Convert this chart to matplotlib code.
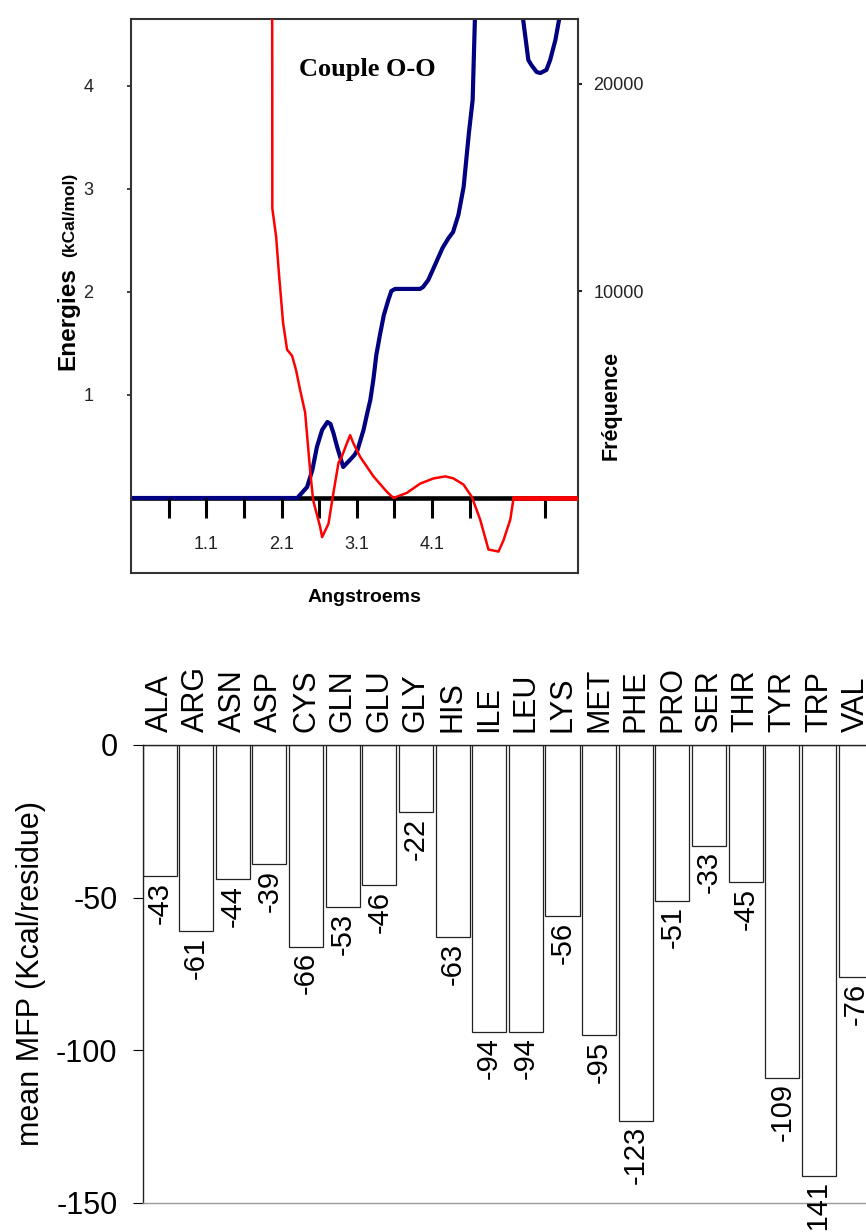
import matplotlib
matplotlib.use("Agg")
import matplotlib.pyplot as plt

plt.rcParams['font.family'] = ['Liberation Sans', 'DejaVu Sans']
plt.rcParams['axes.unicode_minus'] = False

# --- O-O pair potential (kcal/mol) vs distance (Angstrom)
red_a = [1.975, 1.978, 2.028, 2.068, 2.121, 2.174, 2.241, 2.294, 2.347, 2.414,
         2.48, 2.52, 2.613, 2.64, 2.724, 2.79, 2.857, 2.90, 2.968, 3.012,
         3.056, 3.145, 3.322, 3.50, 3.588, 3.766, 3.943, 4.12, 4.276, 4.386,
         4.519, 4.63, 4.74, 4.85, 4.984, 5.05, 5.14, 5.184, 6.04]
red_e = [6.0, 2.81, 2.54, 2.16, 1.70, 1.44, 1.38, 1.24, 1.05, 0.83,
         0.27, -0.02, -0.28, -0.38, -0.25, 0.05, 0.34, 0.40, 0.53, 0.61,
         0.53, 0.40, 0.21, 0.06, 0.0, 0.05, 0.14, 0.19, 0.21, 0.19,
         0.13, 0.01, -0.21, -0.50, -0.52, -0.41, -0.21, 0.0, 0.0]

# --- O-O distance frequency
blue_a = [0.1, 2.31, 2.44, 2.51, 2.57, 2.64, 2.71, 2.75, 2.79, 2.84, 2.88,
          2.92, 2.97, 3.01, 3.07, 3.11, 3.19, 3.24, 3.28, 3.32, 3.36, 3.41,
          3.46, 3.52, 3.56, 3.61, 3.94, 3.98, 4.05, 4.14, 4.24, 4.32, 4.38,
          4.45, 4.52, 4.59, 4.64, 4.67, 4.69, 5.0, 5.30, 5.31, 5.38, 5.42,
          5.49, 5.54, 5.62, 5.67, 5.74, 5.79, 5.81]
blue_f = [0, 0, 530, 1350, 2460, 3290, 3670, 3580, 3140, 2460, 1980,
          1500, 1690, 1840, 2080, 2320, 3290, 4110, 4730, 5700, 6910, 7920,
          8840, 9570, 10000, 10100, 10100, 10190, 10530, 11260, 12080, 12560, 12850,
          13670, 15020, 17630, 19230, 23140, 23600, 32000, 23600, 23140, 21160, 20920,
          20580, 20530, 20680, 21160, 22130, 23140, 23600]

dist_ticks = [0.6, 1.1, 1.6, 2.1, 2.6, 3.1, 3.6, 4.1, 4.6, 5.6]
dist_labels = ['1.1', '2.1', '3.1', '4.1']
energy_ticks = [1, 2, 3, 4]
freq_ticks = [10000, 20000]

# --- mean MFP per residue type
residues = ['ALA', 'ARG', 'ASN', 'ASP', 'CYS', 'GLN', 'GLU', 'GLY', 'HIS', 'ILE',
            'LEU', 'LYS', 'MET', 'PHE', 'PRO', 'SER', 'THR', 'TYR', 'TRP', 'VAL']
mfp = [-43, -61, -44, -39, -66, -53, -46, -22, -63, -94,
       -94, -56, -95, -123, -51, -33, -45, -109, -141, -76]

W, H = 866, 1232
fig = plt.figure(figsize=(W / 100, H / 100), dpi=100)


def fx(px):
    return px / W


def fy(py):
    return 1 - py / H


# ---------------- top panel ----------------
ax1 = fig.add_axes([fx(131), fy(573), fx(447), 554 / H])
ax1.set_xlim(0.1, 6.04)
ax1.set_ylim(-0.728, 4.65)
for s in ax1.spines.values():
    s.set_color('#333333')
    s.set_linewidth(1.5)
ax1.set_xticks([])
ax1.set_yticks(energy_ticks)
ax1.set_yticklabels([str(t) for t in energy_ticks])
ax1.tick_params(axis='y', direction='out', length=3, width=1.2, pad=24,
                labelsize=13, colors='#222222')

ax1b = ax1.twinx()
ax1b.set_ylim(-3623, 23140)
ax1b.set_yticks(freq_ticks)
ax1b.set_yticklabels([str(t) for t in freq_ticks])
ax1b.tick_params(axis='y', direction='out', length=3, width=1.5, pad=8,
                 labelsize=13, colors='#222222')
for s in ax1b.spines.values():
    s.set_visible(False)

# zero line sits under the frequency curve, ticks hang below it
ax1b.axhline(0, color='black', lw=3.3, zorder=1)
ax1.vlines(dist_ticks, -0.19, 0, color='black', lw=2.2, zorder=1)
for lab in dist_labels:
    ax1.text(float(lab), -0.456, lab, ha='center', va='center', fontsize=13,
             color='#222222')

ax1b.plot(blue_a, blue_f, color='#000080', lw=3.0, zorder=3,
          solid_joinstyle='round')
ax1.plot(red_a, red_e, color='#ff0000', lw=1.8, zorder=4)
ax1.plot(red_a[-2:], red_e[-2:], color='#ff0000', lw=3.3, zorder=4)
ax1.set_zorder(ax1b.get_zorder() + 1)
ax1.patch.set_visible(False)

fig.text(fx(367), fy(76), 'Couple O-O', ha='center', va='baseline',
         family=['Liberation Serif', 'DejaVu Serif'], fontweight='bold',
         fontsize=19)
fig.text(fx(74), fy(370), 'Energies', rotation=90, rotation_mode='anchor',
         ha='left', va='baseline', fontsize=17.5, fontweight='bold')
fig.text(fx(74), fy(257), '(kCal/mol)', rotation=90, rotation_mode='anchor',
         ha='left', va='baseline', fontsize=12.5, fontweight='bold')
fig.text(fx(617), fy(460), 'Fréquence', rotation=90, rotation_mode='anchor',
         ha='left', va='baseline', fontsize=15.5, fontweight='bold')
fig.text(fx(364), fy(602), 'Angstroems', ha='center', va='baseline',
         fontsize=14, fontweight='bold')

# ---------------- bottom panel ----------------
ax2 = fig.add_axes([fx(142.5), fy(1203), fx(W - 142.5), 458 / H])
x = list(range(len(residues)))
bars = ax2.bar(x, mfp, width=0.93, color='white', edgecolor='#222222',
               linewidth=0.9, zorder=2)
ax2.set_xlim(-0.465, 19.285)
ax2.set_ylim(-150, 0)

ax2.xaxis.tick_top()
ax2.set_xticks(x)
ax2.set_xticklabels(residues, rotation=90, fontsize=22)
ax2.tick_params(axis='x', length=0, pad=9)
ax2.set_yticks([0, -50, -100, -150])
ax2.tick_params(axis='y', direction='out', length=7, width=0.8, pad=11,
                labelsize=22)

ax2.spines['right'].set_visible(False)
ax2.spines['top'].set_color('#222222')
ax2.spines['left'].set_color('#222222')
ax2.spines['bottom'].set_color('#9a9a9a')
for s in ax2.spines.values():
    s.set_linewidth(1.0)

for xi, v in zip(x, mfp):
    ax2.annotate(str(v), (xi, v), xytext=(0, -4), textcoords='offset points',
                 rotation=90, ha='center', va='top', fontsize=21,
                 annotation_clip=False, zorder=3)

ax2.set_ylabel('mean MFP (Kcal/residue)', fontsize=22, rotation=90,
               rotation_mode='anchor', va='baseline', ha='center')
ax2.yaxis.set_label_coords((39 - 142.5) / (W - 142.5), 0.5)

fig.savefig('out.png', dpi=100)
